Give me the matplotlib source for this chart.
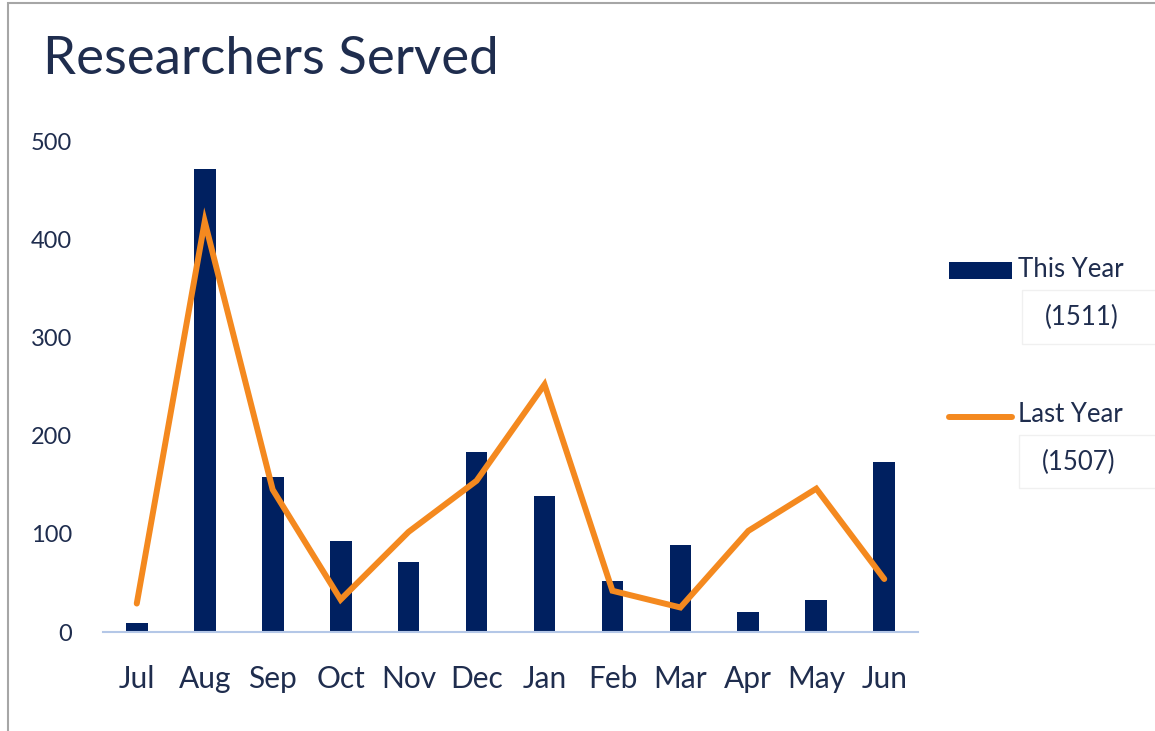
import matplotlib
matplotlib.use("Agg")
import matplotlib.pyplot as plt
from matplotlib.patches import Rectangle
from matplotlib.lines import Line2D

months = ["Jul", "Aug", "Sep", "Oct", "Nov", "Dec", "Jan", "Feb", "Mar", "Apr", "May", "Jun"]
this_year = [9, 471, 158, 93, 71, 183, 139, 52, 89, 20, 33, 173]
last_year = [29, 418, 145, 33, 102, 154, 252, 42, 25, 103, 146, 54]
this_total = "(1511)"
last_total = "(1507)"
y_ticks = [0, 100, 200, 300, 400, 500]

NAVY = "#002060"
ORANGE = "#F4891F"
TEXT = "#1F2D4E"

plt.rcParams["font.family"] = ["Lato", "DejaVu Sans"]

fig = plt.figure(figsize=(11.55, 7.31), dpi=100)
ax = fig.add_axes([0.089, 0.1354, 0.706, 0.6717])

x = range(len(months))
ax.bar(x, this_year, width=0.32, color=NAVY, zorder=2)
ax.plot(x, last_year, color=ORANGE, linewidth=4.3, solid_joinstyle="miter",
        solid_capstyle="round", zorder=3)

ax.set_xlim(-0.5, len(months) - 0.5)
ax.set_ylim(0, 500)
ax.set_yticks(y_ticks)
ax.set_xticks(list(x))
ax.set_xticklabels(months)
ax.tick_params(axis="x", length=0, labelsize=21.5, colors=TEXT, pad=24)
ax.tick_params(axis="y", length=0, labelsize=17, colors=TEXT, pad=22)
for side in ["top", "right", "left"]:
    ax.spines[side].set_visible(False)
ax.spines["bottom"].set_color("#B4C7E7")
ax.spines["bottom"].set_linewidth(1.5)

fig.text(0.037, 0.918, "Researchers Served", fontsize=38, color=TEXT,
         ha="left", va="center")

# legend drawn by hand to match the layout
fig.add_artist(Rectangle((0.822, 0.619), 0.054, 0.022, transform=fig.transFigure,
                         facecolor=NAVY, edgecolor="none"))
fig.text(0.881, 0.632, "This Year", fontsize=18.5, color=TEXT, va="center")
fig.add_artist(Rectangle((0.885, 0.530), 0.13, 0.073, transform=fig.transFigure,
                         facecolor="white", edgecolor="#F0F0F0", linewidth=1))
fig.text(0.937, 0.566, this_total, fontsize=18.5, color=TEXT, va="center", ha="center")

fig.add_artist(Line2D([0.822, 0.876], [0.430, 0.430], transform=fig.transFigure,
                      color=ORANGE, linewidth=4.3, solid_capstyle="round"))
fig.text(0.881, 0.433, "Last Year", fontsize=18.5, color=TEXT, va="center")
fig.add_artist(Rectangle((0.882, 0.332), 0.13, 0.073, transform=fig.transFigure,
                         facecolor="white", edgecolor="#F0F0F0", linewidth=1))
fig.text(0.934, 0.368, last_total, fontsize=18.5, color=TEXT, va="center", ha="center")

# outer frame (only left and top edges visible)
fig.add_artist(Rectangle((0.007, -0.2), 1.2, 1.196, transform=fig.transFigure,
                         facecolor="none", edgecolor="#A6A6A6", linewidth=1.5))

fig.savefig("out.png", dpi=100, facecolor="white")
